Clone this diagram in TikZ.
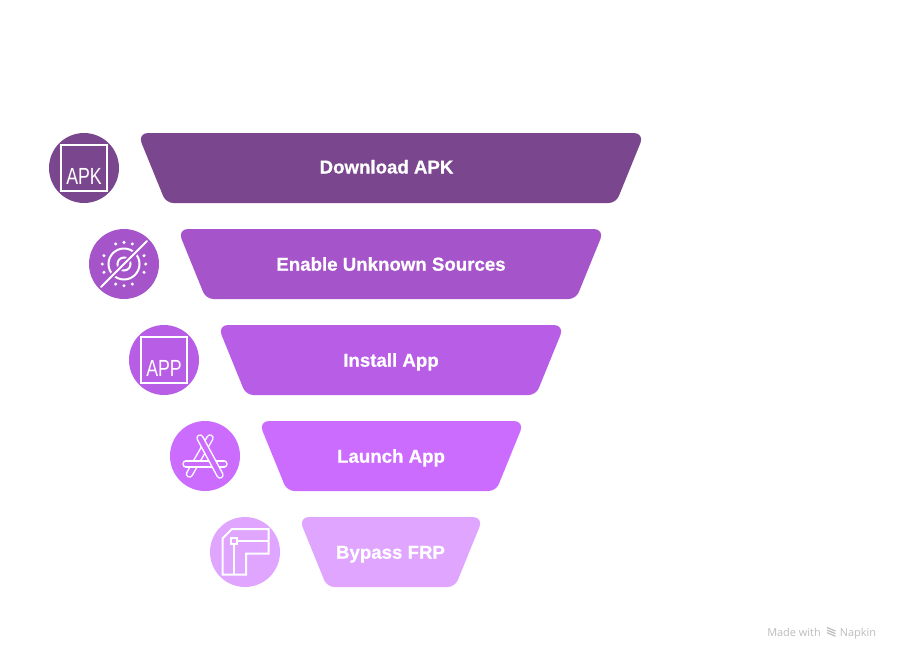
\documentclass[tikz,border=0pt]{standalone}
\usepackage{fontspec}
\usetikzlibrary{calc}
\setmainfont{Liberation Sans}
\newfontfamily\labelfont[FakeBold=0.6]{Liberation Sans Bold}
\newfontfamily\markfont{Open Sans}
\definecolor{cA}{HTML}{7A468D}
\definecolor{cB}{HTML}{A555C9}
\definecolor{cC}{HTML}{B75DE6}
\definecolor{cD}{HTML}{CB6CFF}
\definecolor{cE}{HTML}{E0A6FF}
\definecolor{cMark}{HTML}{BDBDBD}
\tikzset{
  bar label/.style={text=white,font=\labelfont\fontsize{14}{17}\selectfont,anchor=base,inner sep=0pt},
  icon line/.style={draw=white,line width=1.5pt},
  icon text/.style={text=white,inner sep=0pt,anchor=base},
  mark text/.style={text=cMark,font=\markfont\fontsize{8.2}{10}\selectfont,inner sep=0pt,anchor=base west},
  capsule out/.style={draw=white,line width=5.6pt,line cap=round},
  capsule in/.style={draw=cD,line width=3.4pt,line cap=round},
}
\newcommand{\trapshape}[5]{% left right top bottom colour
  \fill[#5] (#1/2+#2/2,#3) [rounded corners=8pt] -- (#2+2.5,#3) [rounded corners=5.5pt] -- (#2+2.5-28.5,#4) -- (#1-2.5+28.5,#4) [rounded corners=8pt] -- (#1-2.5,#3) -- cycle;}
\begin{document}
\begin{tikzpicture}[x=0.75pt,y=-0.75pt]
\useasboundingbox (0,0) rectangle (900,661);
\fill[white] (0,0) rectangle (900,661);
% bars
\trapshape{140}{642}{133}{203}{cA}
\trapshape{180}{602}{229}{299}{cB}
\trapshape{220}{562}{325}{395}{cC}
\trapshape{261}{522}{421}{491}{cD}
\trapshape{301}{481}{517}{587}{cE}
\node[bar label] (t1) at (386.5,173.5) {Download APK};
\node[bar label] (t2) at (391,270.7) {Enable Unknown Sources};
\node[bar label] (t3) at (391,366.7) {Install App};
\node[bar label] (t4) at (391,462.7) {Launch App};
\node[bar label] (t5) at (390.5,558.7) {Bypass FRP};
% discs
\fill[cA] (84,168) circle[radius=35];
\fill[cB] (124,264) circle[radius=35];
\fill[cC] (164,360) circle[radius=35];
\fill[cD] (205,456) circle[radius=35];
\fill[cE] (245,552) circle[radius=35];
% APK icon
\draw[icon line] (61,145) rectangle (107,191);
\node[icon text] (apk) at (84,184) {\fontsize{17.5}{20}\selectfont\scalebox{.76}[1]{APK}};
% unknown sources icon
\foreach \a in {0,22.5,67.5,90,112.5,135,157.5,180,202.5,247.5,270,292.5,315,337.5}
  \fill[white] ($(124,264)+(\a:21.7)$) circle[radius=1.7];
\draw[icon line] (124,264) circle[radius=15.5];
\draw[icon line] (124,264) circle[radius=6.5];
\draw[cB,line width=4pt] (101,287) -- (147,241);
\draw[icon line,line cap=round] (101,287) -- (147,241);
% APP icon
\draw[icon line] (141,337) rectangle (187,383);
\node[icon text] (app) at (164,376) {\fontsize{17.5}{20}\selectfont\scalebox{.76}[1]{APP}};
% launch icon
\draw[capsule out] (210,438) -- (189.5,474);
\draw[capsule in] (210,438) -- (189.5,474);
\draw[capsule out] (186,464) -- (224,464);
\draw[capsule in] (186,464) -- (224,464);
\draw[capsule out] (200,438) -- (220,475);
\draw[capsule in] (200,438) -- (220,475);
% bypass icon
\draw[icon line,line join=miter] (222.5,538.5) -- (232,529) -- (268.5,529) -- (268.5,553.5) -- (246,553.5) -- (246,574.5) -- (222.5,574.5) -- cycle;
\draw[icon line] (231,538) rectangle (236.5,544);
\draw[icon line] (236.5,541) -- (268.5,541);
\draw[icon line] (233.7,544) -- (233.7,574.5);
% watermark
\node[mark text] (m1) at (767,636) {Made with};
\node[mark text] (m2) at (839.5,636) {Napkin};
\foreach \d in {0,2.6,5.2}
  \draw[cMark,line width=0.9pt] (827,627.5+\d) -- (835.5,631+\d);
\end{tikzpicture}
\end{document}
